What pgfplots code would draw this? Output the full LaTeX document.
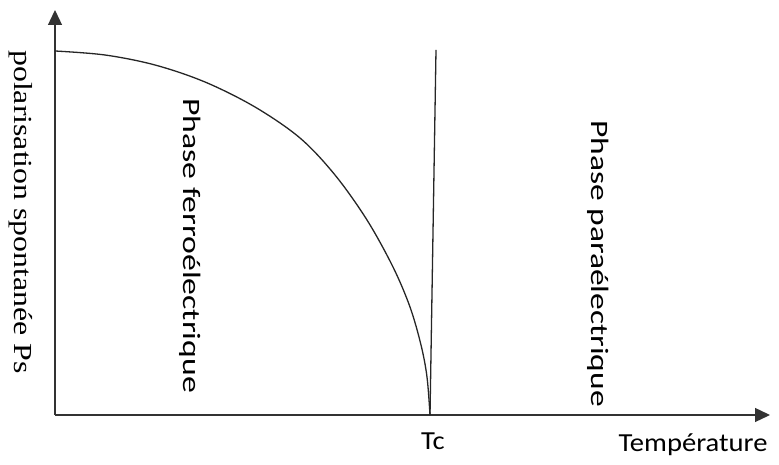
\documentclass[border=0pt]{standalone}
\usepackage{fontspec}
\setmainfont{Carlito}
\newfontfamily\timesf{Liberation Serif}
\usepackage{pgfplots}
\pgfplotsset{compat=1.18}
\usetikzlibrary{arrows.meta}
\begin{document}
\begin{tikzpicture}[x=1pt,y=1pt]
\useasboundingbox (0,0) rectangle (779,465);
\begin{axis}[
  at={(55pt,50pt)}, anchor=south west,
  scale only axis, width=715pt, height=405pt,
  xmin=0, xmax=715, ymin=0, ymax=405,
  axis lines=left,
  axis line style={line width=1.3pt, black!80, -{Triangle[length=15pt,width=14pt]}},
  xtick=\empty, ytick=\empty,
  clip=false,
]
\addplot[line width=1.3pt, black!85, smooth, tension=0.55] coordinates {
(0,364) (50,360) (100,350) (150,333) (200,308) (245,277) (280,240) (312,195) (338,148) (355,108) (366,70) (372,38) (375,0)
};
\addplot[line width=1.3pt, black!85] coordinates {(375,0) (381,365)};
\end{axis}
\node[rotate=-90, anchor=west, inner sep=0pt] at (21,415) {\timesf\fontsize{26}{30}\selectfont\scalebox{1.225}[1]{polarisation spontanée Ps}};
\node[rotate=-90, anchor=west, inner sep=0pt] at (190,367) {\fontsize{25}{30}\selectfont\scalebox{1.35}[1]{Phase ferroélectrique}};
\node[rotate=-90, anchor=west, inner sep=0pt] at (598,345) {\fontsize{25}{30}\selectfont\scalebox{1.34}[1]{Phase paraélectrique}};
\node[anchor=base, inner sep=0pt] at (433,15) {\fontsize{26}{30}\selectfont\scalebox{1.1}[1]{Tc}};
\node[anchor=base, inner sep=0pt] at (693,13) {\fontsize{26}{30}\selectfont\scalebox{1.1}[1]{Température}};
\end{tikzpicture}
\end{document}
